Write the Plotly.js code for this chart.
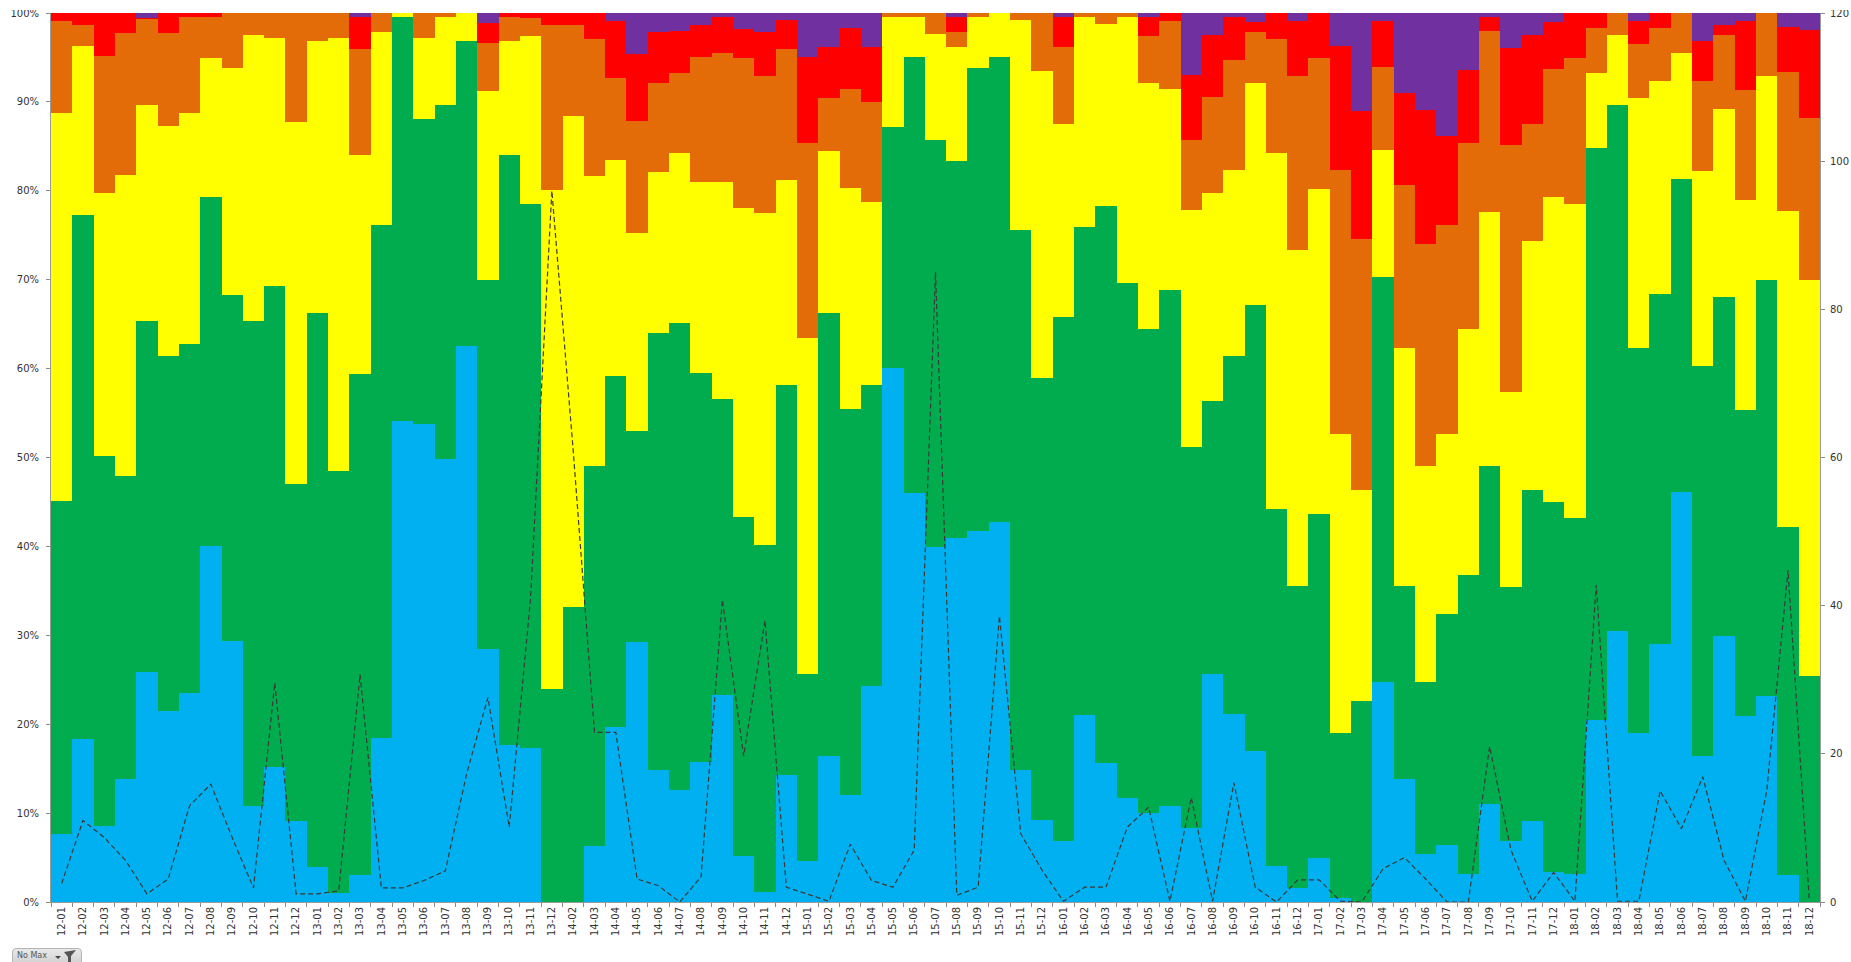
<!DOCTYPE html>
<html>
<head>
<meta charset="utf-8">
<script src="https://cdn.plot.ly/plotly-3.0.1.min.js"></script>
<style>
  html, body { margin: 0; padding: 0; background: #fff; overflow: hidden; }
  #chart { position: absolute; left: 0; top: 0; width: 1851px; height: 962px; clip-path: inset(10px 0 0 0); }
  #slicer {
    position: absolute; left: 12px; top: 948px; width: 70px; height: 18px;
    box-sizing: border-box; border: 1px solid #b5b5b5; border-radius: 4px;
    background: linear-gradient(#e9e9e9, #cfcfcf);
    font: 8px "DejaVu Sans", sans-serif; color: #555;
  }
  #slicer span { position: absolute; left: 4px; top: 2px; }
  #slicer svg { position: absolute; left: 40px; top: 1px; }
</style>
</head>
<body>
<div id="chart"></div>
<div id="slicer"><span>No Max</span>
  <svg width="28" height="13" viewBox="0 0 28 13">
    <path d="M2 6 L8 6 L5 9 Z" fill="#444"/>
    <path d="M11 2 L23 0 L18 6 L18 13 L15 13 L15 7 Z" fill="#555"/>
  </svg>
</div>
<script>
const months = [
  "12-01","12-02","12-03","12-04","12-05","12-06","12-07","12-08","12-09","12-10","12-11","12-12",
  "13-01","13-02","13-03","13-04","13-05","13-06","13-07","13-08","13-09","13-10","13-11","13-12",
  "14-02","14-03","14-04","14-05","14-06","14-07","14-08","14-09","14-10","14-11","14-12",
  "15-01","15-02","15-03","15-04","15-05","15-06","15-07","15-08","15-09","15-10","15-11","15-12",
  "16-01","16-02","16-03","16-04","16-05","16-06","16-07","16-08","16-09","16-10","16-11","16-12",
  "17-01","17-02","17-03","17-04","17-05","17-06","17-07","17-08","17-09","17-10","17-11","17-12",
  "18-01","18-02","18-03","18-04","18-05","18-06","18-07","18-08","18-09","18-10","18-11","18-12"
];

// Running totals per month (percent), lowest band first.
const upToBlue = [
  7.6,18.3,8.6,13.8,25.9,21.5,23.5,40.0,29.4,10.8,15.2,9.1,
  3.9,1.0,3.0,18.5,54.1,53.8,49.8,62.5,28.5,17.7,17.3,0,
  0,6.3,19.7,29.3,14.8,12.6,15.7,23.3,5.2,1.1,14.3,
  4.6,16.4,12.0,24.3,60.1,46.0,39.9,41.0,41.7,42.8,14.8,9.2,
  6.9,21.0,15.6,11.7,10.0,10.8,8.3,25.7,21.2,17.0,4.1,1.6,
  5.0,0.5,0,24.7,13.8,5.4,6.4,3.1,11.0,6.9,9.1,3.4,
  3.1,20.5,30.5,19.0,29.0,46.1,16.4,29.9,20.9,23.2,3.0,0
];
const upToGreen = [
  45.1,77.3,50.2,47.9,65.4,61.4,62.8,79.3,68.3,65.4,69.3,47.0,
  66.2,48.5,59.4,76.2,99.5,88.1,89.6,96.9,70.0,84.0,78.5,24.0,
  33.2,49.0,59.2,53.0,64.0,65.1,59.5,56.6,43.3,40.2,58.1,
  25.7,66.2,55.5,58.1,87.2,95.0,85.7,83.3,93.8,95.0,75.6,58.9,
  65.8,75.9,78.3,69.6,64.5,68.8,51.2,56.4,61.4,67.2,44.2,35.5,
  43.6,19.0,22.6,70.3,35.6,24.7,32.4,36.8,49.0,35.4,46.3,45.0,
  43.2,84.8,89.6,62.3,68.4,81.3,60.3,68.1,55.3,70.0,42.2,25.4
];
const upToYellow = [
  88.7,96.3,79.8,81.8,89.6,87.3,88.7,94.9,93.8,97.5,97.2,87.7,
  96.8,97.2,84.0,97.9,100,97.2,99.5,100,91.2,96.8,97.4,80.1,
  88.4,81.7,83.5,75.3,82.1,84.2,81.0,81.0,78.1,77.5,81.2,
  63.4,84.5,80.3,78.7,99.5,99.5,97.6,96.2,99.5,100,99.2,93.5,
  87.5,99.5,98.8,99.5,92.1,91.4,77.8,79.8,82.3,92.1,84.3,73.3,
  80.2,52.7,46.3,84.6,62.3,49.0,52.7,64.4,77.6,57.4,74.4,79.3,
  78.5,93.2,97.5,90.4,92.4,95.5,82.2,89.2,79.0,92.9,77.7,70.0
];
const upToOrange = [
  99.1,98.6,95.2,97.7,99.3,97.8,99.5,99.5,100,100,100,100,
  100,100,96.0,100,100,100,100,100,96.6,99.5,99.4,98.6,
  98.6,97.1,92.7,87.9,92.1,93.2,95.1,95.5,94.9,92.9,96.0,
  85.4,90.4,91.5,90.0,100,100,100,97.9,100,100,100,100,
  96.2,100,100,100,97.4,99.1,85.7,90.5,94.7,97.9,97.1,92.9,
  94.9,82.3,74.6,93.9,80.6,74.0,76.2,85.4,98.0,85.1,87.5,93.7,
  94.9,98.3,100,96.5,98.3,100,92.4,97.5,91.3,100,93.4,88.2
];
const upToRed = [
  100,100,100,100,99.4,100,100,100,100,100,100,100,
  100,100,99.5,100,100,100,100,100,98.9,100,100,100,
  100,100,99.1,95.4,97.9,98.0,98.6,99.5,98.2,97.9,99.2,
  95.0,96.2,98.3,96.2,100,100,100,99.5,100,100,100,100,
  99.5,100,100,100,99.5,100,93.0,97.5,99.5,99.0,100,99.1,
  100,96.3,89.0,99.1,91.0,89.1,86.2,93.6,99.6,96.1,97.5,99.0,
  100,100,100,99.1,100,100,96.9,98.7,99.1,100,98.4,98.1
];
const upToPurple = months.map(() => 100);

// Monthly count on the secondary axis.
const monthlyCount = [
  2.5,11,8.7,5.6,1.1,3.1,13,15.9,8.7,1.9,29.6,1.1,
  1.1,1.5,30.7,1.9,1.9,2.9,4.2,17.3,27.6,10.1,41,96,
  61,22.9,22.9,3.1,2.2,0,3.4,40.8,19.7,38,2,
  1.1,0.1,7.8,2.9,2,7,85,0.9,2,38.6,9.2,4.3,
  0.1,2,2,10.1,12.8,0.1,14.1,0.1,16.1,2,0,3,
  3,0.1,0,4.5,6,3.1,0,0,21,7,0.1,4,
  0.1,42.8,0.1,0.1,15,9.9,16.9,5.6,0.1,15,44.8,0.1
];

// Tall bands first so each shorter one paints over the one above it.
const bands = [
  [upToPurple, "#7030A0"],
  [upToRed,    "#FF0000"],
  [upToOrange, "#E36C09"],
  [upToYellow, "#FFFF00"],
  [upToGreen,  "#00AC4E"],
  [upToBlue,   "#00B0F0"]
];

const traces = bands.map(([values, colour]) => ({
  type: "bar", x: months, y: values,
  marker: { color: colour, line: { width: 0 } },
  hoverinfo: "skip"
}));

traces.push({
  type: "scatter", mode: "lines", x: months, y: monthlyCount, yaxis: "y2",
  line: { color: "#3a3a3a", width: 1.2, dash: "5px,3px" },
  hoverinfo: "skip"
});

const tickFont = { family: "DejaVu Sans, sans-serif", size: 10, color: "#333" };

const layout = {
  width: 1851, height: 962,
  margin: { l: 51, r: 31, t: 13, b: 60, pad: 0 },
  paper_bgcolor: "#fff", plot_bgcolor: "#fff",
  showlegend: false, barmode: "overlay", bargap: 0,
  xaxis: {
    type: "category", categoryorder: "array", categoryarray: months,
    range: [-0.5, months.length - 0.5], tickmode: "linear", dtick: 1,
    tickson: "boundaries", ticks: "outside", ticklen: 4, tickcolor: "#8a8a8a",
    tickangle: -90, tickfont: tickFont, showgrid: false, zeroline: false,
    showline: true, linecolor: "#9a9a9a", linewidth: 1
  },
  yaxis: {
    range: [0, 100], dtick: 10, ticksuffix: "%", ticks: "outside", ticklen: 4,
    tickcolor: "#8a8a8a", tickfont: tickFont, showgrid: false, zeroline: false,
    showline: true, linecolor: "#9a9a9a", linewidth: 1, ticklabelstandoff: 5
  },
  yaxis2: {
    overlaying: "y", side: "right", range: [0, 120], dtick: 20, ticks: "outside",
    ticklen: 4, tickcolor: "#8a8a8a", tickfont: tickFont, showgrid: false,
    zeroline: false, showline: true, linecolor: "#9a9a9a", linewidth: 1,
    ticklabelstandoff: 3
  }
};

Plotly.newPlot("chart", traces, layout, { displayModeBar: false, staticPlot: true });
</script>
</body>
</html>
